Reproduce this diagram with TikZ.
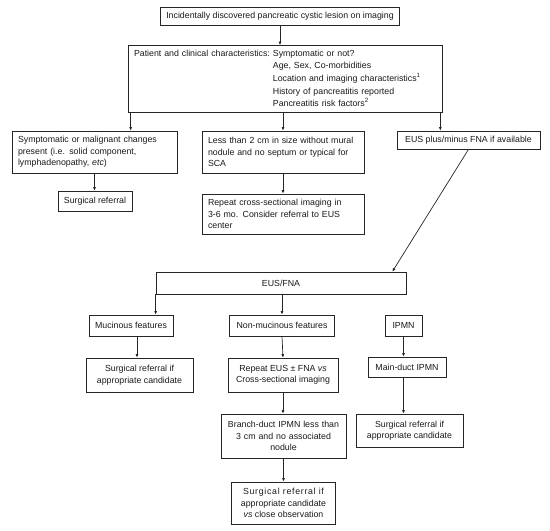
\documentclass[tikz,border=0pt]{standalone}
\usepackage{fontspec}
\setmainfont{Liberation Sans}
\usetikzlibrary{arrows.meta}

\tikzset{
  box/.style={draw=black!85, line width=0.7pt, inner xsep=6pt, inner ysep=2pt,
    font=\fontsize{8.8}{11.5}\selectfont, text=black!90},
  arr/.style={draw=black!85, line width=0.7pt, -{Latex[length=3.5pt,width=3pt]}},
}
\newcommand{\jline}[1]{\makebox[\hsize][s]{#1}}

\begin{document}
\begin{tikzpicture}[x=1pt,y=-1pt]
  \useasboundingbox (0,0) rectangle (550,531);

  \node[box, minimum height=18pt] (lesion) at (280,16)
    {Incidentally discovered pancreatic cystic lesion on imaging};
  \node[box, text width=302pt, minimum height=66pt, align=left,
    font=\fontsize{8.8}{12.6}\selectfont] (patient) at (285,79)
    {\begin{tabular}{@{}l@{\ }l@{}}
      Patient and clinical characteristics: & Symptomatic or not?\\
      & Age, Sex, Co-morbidities\\
      & Location and imaging characteristics\textsuperscript{1}\\
      & History of pancreatitis reported\\
      & Pancreatitis risk factors\textsuperscript{2}
    \end{tabular}};

  % first decision row
  \node[box, text width=153pt, minimum height=42pt, align=left] (sympt) at (94.5,152)
    {\jline{Symptomatic or malignant changes}\\
     \jline{present (i.e. solid component,}\\
     lymphadenopathy, \textit{etc})};
  \node[box, text width=150pt, minimum height=42pt, align=left] (small) at (283,152)
    {\jline{Less than 2 cm in size without mural}\\
     \jline{nodule and no septum or typical for}\\
     SCA};
  \node[box, minimum width=143pt, minimum height=18pt] (eus) at (468.5,140)
    {EUS plus/minus FNA if available};
  \node[box, minimum height=20pt] (surg) at (95,201) {Surgical referral};
  \node[box, text width=150pt, minimum height=40pt, align=left] (repeat) at (283,214)
    {\jline{Repeat cross-sectional imaging in}\\
     \jline{3-6 mo. Consider referral to EUS}\\
     center};

  % EUS branch
  \node[box, minimum width=250pt, minimum height=22pt] (fna) at (281,283) {EUS/FNA};
  \node[box, minimum width=80pt, minimum height=21pt] (muc) at (131,325.5) {Mucinous features};
  \node[box, minimum width=105pt, minimum height=21pt] (nonmuc) at (282,325.5) {Non-mucinous features};
  \node[box, minimum width=37pt, minimum height=21pt, inner xsep=3pt] (ipmn) at (403.5,325.5) {IPMN};
  \node[box, align=center, minimum width=107pt, minimum height=34pt] (surgmuc) at (139.5,375)
    {Surgical referral if\\ appropriate candidate};
  \node[box, align=center, minimum width=110pt, minimum height=34pt] (repeus) at (283,375)
    {Repeat EUS ± FNA \textit{vs}\\ Cross-sectional imaging};
  \node[box, minimum width=78pt, minimum height=20pt] (main) at (407,367) {Main-duct IPMN};
  \node[box, align=center, minimum width=107pt, minimum height=33pt] (surgmain) at (409.5,430.5)
    {Surgical referral if\\ appropriate candidate};
  \node[box, align=center, text width=113pt, minimum height=44pt] (branch) at (283.5,436)
    {Branch-duct IPMN less than\\ 3 cm and no associated\\ nodule};
  \node[box, align=center, minimum width=104pt, minimum height=42pt] (close) at (283.5,503)
    {{\addfontfeature{LetterSpace=8}Surgical referral if}\\
     appropriate candidate\\ \textit{vs} close observation};

  \draw[arr] (lesion.south) -- (lesion.south |- patient.north);
  \draw[arr] ([xshift=3pt]patient.south west) -- ([xshift=3pt]patient.south west |- sympt.north);
  \draw[arr] (patient.south -| small.north) -- (small.north);
  \draw[arr] ([xshift=-2pt]patient.south east) -- ([xshift=-2pt]patient.south east |- eus.north);
  \draw[arr] (sympt.south) -- (sympt.south |- surg.north);
  \draw[arr] (small.south) -- (repeat.north);
  \draw[arr] (eus.south) -- ([xshift=-14pt]fna.north east);
  \draw[arr] (fna.south west) -- (fna.south west |- muc.north);
  \draw[arr] (fna.south -| nonmuc.north) -- (nonmuc.north);
  \draw[arr] ([xshift=6pt]muc.south) -- ([xshift=6pt]muc.south |- surgmuc.north);
  \draw[arr] (nonmuc.south) -- (repeus.north);
  \draw[arr] (ipmn.south) -- (ipmn.south |- main.north);
  \draw[arr] (main.south -| ipmn.south) -- (ipmn.south |- surgmain.north);
  \draw[arr] (repeus.south) -- (repeus.south |- branch.north);
  \draw[arr] (branch.south) -- (branch.south |- close.north);
\end{tikzpicture}
\end{document}
